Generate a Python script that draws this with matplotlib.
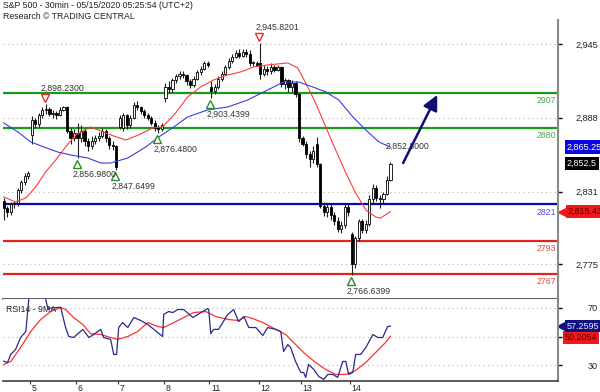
import matplotlib
matplotlib.use('Agg')
import matplotlib.pyplot as plt

plt.rcParams['font.family'] = ['Liberation Sans', 'DejaVu Sans']

# ---- S&P 500, 30 min candles (May 4 .. May 14, 2020) ----
opens = [2824, 2818, 2815, 2821, 2822, 2832, 2838, 2843,
         2875, 2886, 2883, 2890, 2894, 2895, 2891, 2892, 2890, 2894, 2896, 2878, 2872,
         2876, 2872, 2878, 2870, 2866, 2870, 2872, 2874, 2878, 2872, 2867, 2866,
         2881, 2880, 2890, 2882, 2888, 2898, 2896, 2893, 2890, 2888, 2884, 2880, 2879,
         2903, 2912, 2910, 2917, 2920, 2922, 2921, 2916, 2913, 2918, 2923, 2926, 2930,
         2912, 2909, 2912, 2918, 2922, 2927, 2932, 2935, 2938, 2936, 2939, 2937, 2930, 2930,
         2930, 2922, 2926, 2924, 2927, 2925, 2927, 2914, 2917, 2912, 2915, 2906,
         2872, 2868, 2860, 2856, 2868, 2852, 2820, 2815, 2819, 2813, 2808, 2802, 2805, 2819,
         2798, 2775, 2795, 2808, 2801, 2806, 2825, 2834, 2826, 2825, 2829, 2840]
highs = [2826, 2820, 2823, 2824, 2834, 2840, 2845, 2847,
         2889, 2888, 2892, 2896, 2898.23, 2896, 2894, 2893, 2896, 2897, 2897, 2880, 2879,
         2884, 2882, 2880, 2872, 2874, 2875, 2877, 2880, 2879, 2874, 2870, 2867,
         2890, 2892, 2891, 2890, 2900, 2901, 2897, 2895, 2892, 2889, 2886, 2882, 2884,
         2915, 2916, 2919, 2922, 2924, 2924, 2922, 2918, 2920, 2925, 2928, 2932, 2932,
         2916, 2914, 2920, 2924, 2929, 2934, 2937, 2940, 2941, 2941, 2941, 2940, 2932, 2932,
         2945.82, 2929, 2928, 2930, 2929, 2929, 2928, 2919, 2918, 2917, 2916, 2907,
         2874, 2870, 2862, 2866, 2873, 2853, 2823, 2822, 2821, 2815, 2811, 2808, 2822, 2821,
         2800, 2797, 2810, 2810, 2809, 2828, 2837, 2836, 2828, 2831, 2843, 2854]
lows = [2809, 2811, 2813, 2818, 2820, 2830, 2836, 2841,
        2868, 2880, 2881, 2888, 2891, 2889, 2888, 2887, 2889, 2893, 2876, 2868, 2870,
        2856.98, 2869, 2866, 2862, 2864, 2868, 2870, 2872, 2869, 2864, 2863, 2847.65,
        2879, 2878, 2879, 2880, 2887, 2894, 2891, 2888, 2886, 2882, 2878, 2876.48, 2878,
        2900, 2907, 2908, 2915, 2918, 2919, 2913, 2911, 2912, 2917, 2921, 2925, 2927,
        2903.44, 2906, 2910, 2916, 2921, 2926, 2930, 2934, 2934, 2935, 2935, 2928, 2928, 2928,
        2918, 2920, 2921, 2922, 2923, 2924, 2912, 2910, 2908, 2908, 2904, 2869,
        2866, 2857, 2850, 2853, 2850, 2818, 2812, 2811, 2809, 2805, 2800, 2799, 2803, 2812,
        2766.64, 2772, 2793, 2799, 2799, 2804, 2822, 2824, 2818, 2822, 2828, 2839]
closes = [2818, 2815, 2821, 2822, 2832, 2838, 2843, 2845,
          2886, 2883, 2890, 2894, 2895, 2891, 2892, 2890, 2894, 2896, 2878, 2872, 2876,
          2872, 2878, 2870, 2866, 2870, 2872, 2874, 2878, 2872, 2867, 2866, 2850,
          2888, 2890, 2882, 2888, 2898, 2896, 2893, 2890, 2888, 2884, 2880, 2879, 2882,
          2912, 2910, 2917, 2920, 2922, 2921, 2916, 2913, 2918, 2923, 2926, 2930, 2929,
          2909, 2912, 2918, 2922, 2927, 2932, 2935, 2938, 2936, 2939, 2937, 2930, 2930.5, 2929,
          2922, 2926, 2924, 2927, 2925, 2927, 2914, 2917, 2912, 2915, 2906, 2872,
          2868, 2860, 2856, 2862, 2852, 2820, 2815, 2819, 2813, 2808, 2802, 2805, 2819, 2815,
          2775, 2795, 2808, 2801, 2806, 2825, 2834, 2826, 2825, 2829, 2840, 2852.5]

day_labels = ['5', '6', '7', '8', '11', '12', '13', '14']
day_start = [8, 21, 33, 46, 59, 73, 85, 99]

# moving averages
ma_fast_x = [0, 3.4, 6.3, 9.1, 11.9, 14.8, 17.6, 20.5, 24.7, 30.4, 34.7, 38.4, 42.4, 45.2,
             48.9, 52.3, 56, 59.7, 63.7, 67.4, 71.1, 75.1, 80.8, 83.6, 85.9, 88.7, 91.6,
             94.4, 97.3, 100.1, 103, 105.8, 107.2, 110]
ma_fast = [2826.8, 2822.9, 2826, 2834.5, 2846, 2855.4, 2865.4, 2874.7, 2880.9, 2874.7,
           2870.8, 2874.7, 2880.1, 2880.9, 2891.7, 2904, 2911.8, 2917.2, 2921, 2923.4,
           2927.2, 2928.8, 2930.3, 2926.5, 2914.9, 2899.4, 2880.9, 2863.1, 2845.3, 2829.9,
           2816.7, 2811.3, 2810.5, 2815.43]
ma_slow_x = [0, 4, 7.7, 11.4, 15.4, 19.1, 23.9, 27.6, 30.4, 35.3, 40.4, 44.1, 48.4, 52.3,
             58, 63.7, 69.4, 75.1, 79.6, 83.9, 87.9, 91.6, 95.3, 99.3, 103, 106.7, 110]
ma_slow = [2884, 2877, 2869.3, 2865.4, 2861.5, 2859.2, 2856.9, 2853, 2853, 2856.9, 2865.4,
           2873.1, 2880.9, 2888.6, 2894, 2896.3, 2901.7, 2909.5, 2915.6, 2915.6, 2911.8,
           2907.9, 2901.7, 2888.6, 2878.5, 2869.3, 2865.25]

levels_green = [2907, 2880]
levels_blue = [2821]
levels_red = [2793, 2767]
price_ticks = [2775, 2831, 2888, 2945]

pivot_bar = [12, 21, 32, 44, 59, 73, 99]
pivot_val = [2898.23, 2856.98, 2847.6499, 2876.48, 2903.4399, 2945.8201, 2766.6399]
pivot_high = [True, False, False, False, False, True, False]

# RSI14 and its 9 period MA
rsi_x = [0, 1.1, 2, 3.4, 4.8, 6.3, 6.8, 7.3, 8.5, 10, 11.5, 12.6, 13.4, 16.2, 17.6, 18.5,
         19.9, 22.5, 24.2, 25.6, 27.6, 28.4, 30.4, 31.3, 32.1, 32.7, 33.8, 35.3, 37, 39,
         41, 42.7, 45.2, 45.5, 46.9, 48.1, 49.5, 51.2, 53.8, 55.2, 56.6, 58, 58.3, 58.9,
         59.7, 61.1, 62.3, 63.7, 65.4, 66.8, 68.3, 69.7, 71.7, 73.7, 75.1, 77.4, 78.8,
         79.6, 80.8, 81.6, 83, 84.5, 85.3, 85.9, 86.7, 88.2, 89.6, 91, 92.2, 93.6, 95,
         96.4, 97.3, 98.1, 99.3, 100.1, 101.5, 103, 105, 106.4, 107.8, 109.2, 110]
rsi = [32.7, 31.8, 37.4, 41, 49.3, 53.5, 67.5, 80, 83, 84, 81, 69, 70, 70.5, 56.3, 50,
       49.3, 55, 49.3, 51.4, 55, 49.3, 48, 37.4, 37.4, 56.3, 59.8, 56.3, 63.3, 61.2,
       58.4, 55, 50, 65.4, 67.5, 66.8, 68.9, 68.9, 63.3, 65.4, 67.5, 69.6, 68.9, 52,
       55, 55, 59.8, 65.4, 68.9, 60.5, 64, 56.3, 56.3, 50.7, 56.3, 55, 53.5,
       39.5, 44.4, 42.3, 32.5, 24.8, 24.8, 21.3, 30.4, 26.9, 22, 19.9, 23.4, 23.4, 21.3,
       32.5, 32.5, 23.4, 24.8, 37.4, 37.4, 42.3, 51.4, 49.3, 49.3, 57, 57.2595]
rsi_ma_x = [0, 2, 4.8, 7.7, 10.5, 13.4, 16.2, 17.6, 19.9, 22.5, 24.7, 27.6, 30.4, 32.4,
            35.3, 38.1, 41, 43.8, 45.5, 48.4, 51.2, 54, 57.5, 60.3, 64, 66.8, 68.8, 70.8,
            73.7, 77.4, 80.2, 83, 85.9, 88.7, 91.6, 94.4, 97.3, 100.1, 103, 105.8, 108.6, 110]
rsi_ma = [30.4, 32.5, 42.3, 53.5, 61.9, 67.5, 70.3, 68.9, 63.3, 58.4, 52, 51.4, 49.3, 48,
          50, 53.5, 59.8, 57, 56.3, 59.8, 63.3, 66.8, 67.5, 64, 61.9, 61.2, 64, 62.6,
          59.8, 55, 51.4, 44.4, 37.4, 31.8, 26.9, 23.4, 23.4, 26.2, 31.8, 38.8, 45.8, 50.2054]

FS = 6.3
TXT = '#333333'

fig = plt.figure(figsize=(6, 3.92), dpi=100)
ax = fig.add_axes([3 / 600, 93 / 392, 555 / 600, 279 / 392])
ar = fig.add_axes([3 / 600, 11 / 392, 555 / 600, 82 / 392])

xmin, xmax = -0.2, 157.65
ax.set_xlim(xmin, xmax)
ax.set_ylim(2747.95, 2963.5)

for v in price_ticks:
    ax.axhline(v, color='#b8b8b8', lw=0.8, ls=(0, (1, 3)), zorder=0)

# support / resistance lines
for lv in levels_green:
    ax.axhline(lv, color='#169c16', lw=1.6, zorder=1)
    ax.annotate(str(lv), (0.997, lv), xycoords=ax.get_yaxis_transform(), xytext=(0, -5.5),
                textcoords='offset points', ha='right', va='center', fontsize=FS, color='#4aa84a')
for lv in levels_blue:
    ax.axhline(lv, color='#0a0aa8', lw=1.6, zorder=1)
    ax.annotate(str(lv), (0.997, lv), xycoords=ax.get_yaxis_transform(), xytext=(0, -5.5),
                textcoords='offset points', ha='right', va='center', fontsize=FS, color='#4a4aff')
for lv in levels_red:
    ax.axhline(lv, color='#e02424', lw=1.6, zorder=1)
    ax.annotate(str(lv), (0.997, lv), xycoords=ax.get_yaxis_transform(), xytext=(0, -5.5),
                textcoords='offset points', ha='right', va='center', fontsize=FS, color='#e04848')

# candles
for i in range(len(closes)):
    o, h, l, c = opens[i], highs[i], lows[i], closes[i]
    ax.vlines(i, l, h, color='#202020', lw=0.8, zorder=3)
    body = max(abs(c - o), 0.7)
    up = c >= o
    ax.bar(i, body, bottom=min(o, c), width=0.62, color='white' if up else 'black',
           edgecolor='black', linewidth=0.6, zorder=4)

ax.plot(ma_fast_x, ma_fast, color='#ff3b3b', lw=0.8, zorder=5)
ax.plot(ma_slow_x, ma_slow, color='#3c3cdc', lw=0.8, zorder=5)

# pivot highs / lows
shift = matplotlib.transforms.ScaledTranslation
for b, v, hi in zip(pivot_bar, pivot_val, pivot_high):
    if hi:
        ax.plot(b, v, marker='v', ms=5.5, mfc='white', mec='#e53030', mew=1.0, ls='none',
                zorder=6, transform=ax.transData + shift(-1 / 100, 6 / 100, fig.dpi_scale_trans))
        ax.annotate(f'{v:,.4f}', (b, v), xytext=(-3.5, 11.5), textcoords='offset points',
                    ha='left', va='center', fontsize=FS, color=TXT, zorder=7)
    else:
        ax.plot(b, v, marker='^', ms=5.5, mfc='white', mec='#2e8b2e', mew=1.0, ls='none',
                zorder=6, transform=ax.transData + shift(-1 / 100, -6 / 100, fig.dpi_scale_trans))
        ax.annotate(f'{v:,.4f}', (b, v), xytext=(-3.5, -12), textcoords='offset points',
                    ha='left', va='center', fontsize=FS, color=TXT, zorder=7)

ax.text(108.6, 2866.2, '2,852.8000', fontsize=FS, color=TXT, ha='left', va='center', zorder=7)

ax.annotate('', xy=(123.3, 2905.6), xytext=(113.6, 2853),
            arrowprops=dict(arrowstyle='-|>,head_length=0.9,head_width=0.45', color='#101070',
                            lw=1.8, shrinkA=0, shrinkB=0), zorder=8)

ax.yaxis.tick_right()
ax.set_yticks(price_ticks)
ax.set_yticklabels([f'{v:,}' for v in price_ticks])
ax.tick_params(axis='y', direction='out', length=3, width=1, colors='black', labelsize=6.6,
               pad=25.8, labelcolor='#222222')
for t in ax.get_yticklabels():
    t.set_horizontalalignment('right')
ax.set_xticks([])
for s in ['left', 'top']:
    ax.spines[s].set_visible(False)
ax.spines['right'].set_color('#8a8a8a')
ax.spines['right'].set_linewidth(1.5)
ax.spines['bottom'].set_color('#404040')
ax.spines['bottom'].set_linewidth(1.2)

# value boxes on the price scale
yt = ax.get_yaxis_transform()
ax.text(1.016, ma_slow[-1], f'{ma_slow[-1]:,.2f}', transform=yt, fontsize=6.5, color='white',
        va='center', ha='left', clip_on=False,
        bbox=dict(boxstyle='square,pad=0.25', fc='#0a0ae0', ec='none'))
ax.text(1.016, closes[-1], f'{closes[-1]:,.1f}', transform=yt, fontsize=6.5, color='white',
        va='center', ha='left', clip_on=False,
        bbox=dict(boxstyle='square,pad=0.25', fc='black', ec='none'))
ax.text(1.018, ma_fast[-1], f'{ma_fast[-1]:,.2f}', transform=yt, fontsize=6.5, color='#5a0000',
        va='center', ha='left', clip_on=False,
        bbox=dict(boxstyle='square,pad=0.25', fc='#f01818', ec='none'))
ax.plot([1.008], [ma_fast[-1]], marker='<', ms=6, color='#f01818', transform=yt, clip_on=False)

fig.text(3 / 600, 1 - 6 / 392, 'S&P 500 - 30min - 05/15/2020 05:25:54 (UTC+2)', fontsize=FS,
         color='#222222', ha='left', va='center')
fig.text(3 / 600, 1 - 16.5 / 392, 'Research \u00a9 TRADING CENTRAL', fontsize=FS,
         color='#222222', ha='left', va='center')

# ---- RSI panel ----
ar.set_xlim(xmin, xmax)
ar.set_ylim(18.8, 76.3)
for v in [70, 50, 30]:
    ar.axhline(v, color='#b8b8b8', lw=0.8, ls=(0, (1, 3)), zorder=0)
ar.plot(rsi_ma_x, rsi_ma, color='#ff3030', lw=0.9, zorder=3)
ar.plot(rsi_x, rsi, color='#2a2a8a', lw=0.9, zorder=4)
ar.text(0.005, 0.87, 'RSI14 - 9MA', transform=ar.transAxes, fontsize=FS, color='#222222',
        ha='left', va='center')

ar.yaxis.tick_right()
ar.set_yticks([30, 50, 70])
ar.set_yticklabels(['30', '', '70'])
ar.tick_params(axis='y', direction='out', length=3, width=1, colors='black', labelsize=6.6,
               pad=25.8, labelcolor='#222222')
for t in ar.get_yticklabels():
    t.set_horizontalalignment('right')
ar.set_xticks([d - 0.5 for d in day_start])
ar.set_xticklabels([])
ar.tick_params(axis='x', direction='out', length=2.5, width=0.8, colors='#333333')
for d, lab in zip(day_start, day_labels):
    ar.annotate(lab, (d - 0.5, 0), xycoords=('data', 'axes fraction'), xytext=(1.2, -2),
                textcoords='offset points', ha='left', va='top', fontsize=FS, color='#222222')
for s in ['left', 'top']:
    ar.spines[s].set_visible(False)
ar.spines['right'].set_color('#8a8a8a')
ar.spines['right'].set_linewidth(1.5)
ar.spines['bottom'].set_color('#404040')
ar.spines['bottom'].set_linewidth(1.2)

ryt = ar.get_yaxis_transform()
ar.text(1.016, rsi[-1], f'{rsi[-1]:.4f}', transform=ryt, fontsize=6.5, color='#e8e8ff',
        va='center', ha='left', clip_on=False,
        bbox=dict(boxstyle='square,pad=0.2', fc='#101080', ec='none'), zorder=6)
ar.plot([1.006], [rsi[-1]], marker='<', ms=6, color='#101080', transform=ryt, clip_on=False)
ar.text(1.012, rsi_ma[-1] - 0.8, f'{rsi_ma[-1]:.4f}', transform=ryt, fontsize=6.5,
        color='#5a0000', va='center', ha='left', clip_on=False,
        bbox=dict(boxstyle='square,pad=0.2', fc='#f01818', ec='none'), zorder=5)

fig.savefig('out.png', dpi=100)
